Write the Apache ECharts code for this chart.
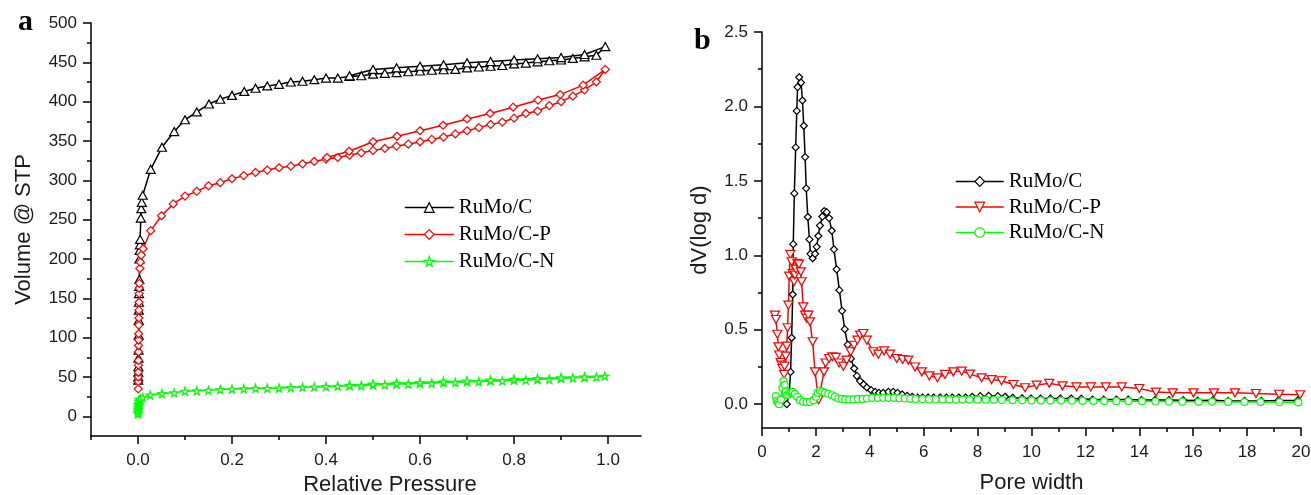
<!DOCTYPE html>
<html>
<head>
<meta charset="utf-8">
<title>RuMo/C isotherms and pore size distribution</title>
<script src="https://cdn.jsdelivr.net/npm/echarts@6/dist/echarts.min.js"></script>
<style>
  html, body { margin: 0; padding: 0; background: #fff; }
  #chart { width: 1311px; height: 495px; }
</style>
</head>
<body>
<div id="chart"></div>
<script>
// ---- panel a : N2 isotherms (relative pressure vs volume @ STP) ----
const aBlackP = [0.0005, 0.0006, 0.0007, 0.0008, 0.001, 0.0012, 0.0014, 0.0016, 0.0018, 0.002, 0.0022, 0.0025, 0.0028, 0.003, 0.0035, 0.004, 0.0045, 0.006, 0.007, 0.008, 0.01,
  0.027, 0.051, 0.077, 0.1, 0.125, 0.151, 0.175, 0.2, 0.226, 0.25, 0.275, 0.3, 0.325, 0.35, 0.375, 0.4, 0.425, 0.45, 0.475, 0.5, 0.525, 0.55, 0.575, 0.6, 0.625, 0.65, 0.675, 0.7, 0.725, 0.75, 0.775, 0.8, 0.825, 0.85, 0.875, 0.9, 0.925, 0.95, 0.975, 0.994,
  0.95, 0.9, 0.85, 0.8, 0.75, 0.7, 0.65, 0.6, 0.55, 0.5, 0.45]
const aBlackV = [46, 50, 56, 63, 74, 84, 103, 122, 135, 145, 156, 165, 174, 200, 211, 218, 225, 252, 264, 272, 281,
  314, 342, 362, 377, 387, 397, 403, 408, 413, 417, 420, 422, 425, 426, 428, 430, 430, 432, 433, 435, 436, 437, 438, 439, 440, 440.6, 441, 443, 444, 445, 446, 448, 449, 450.6, 452, 453, 455, 457, 459, 470,
  460, 456, 454.6, 453, 451, 449.5, 447, 445, 443, 441, 433]

const aRedP = [0.0005, 0.0006, 0.0007, 0.0008, 0.0009, 0.001, 0.0011, 0.0012, 0.0013, 0.0014, 0.0016, 0.0018, 0.002, 0.0022, 0.0025, 0.0027, 0.003, 0.004, 0.005, 0.007, 0.011,
  0.027, 0.05, 0.075, 0.1, 0.125, 0.15, 0.175, 0.2, 0.225, 0.25, 0.275, 0.3, 0.325, 0.35, 0.375, 0.4, 0.425, 0.45, 0.475, 0.5, 0.525, 0.55, 0.575, 0.6, 0.625, 0.65, 0.675, 0.7, 0.725, 0.75, 0.775, 0.8, 0.825, 0.85, 0.875, 0.9, 0.925, 0.95, 0.975, 0.994,
  0.947, 0.898, 0.851, 0.798, 0.749, 0.7, 0.649, 0.6, 0.551, 0.5, 0.449, 0.402]
const aRedV = [35, 44, 50, 56, 65, 71, 82, 90, 97, 105, 116, 125, 135, 145, 156, 163, 169, 188, 196, 205, 213,
  236, 255, 270, 280, 286, 293, 297, 302, 306, 310, 313, 316, 318, 321, 324, 327, 329, 332, 335, 338, 340.5, 343.5, 346, 349, 352, 355, 359, 363, 367, 371, 374, 379, 385, 388, 395, 400, 407, 415, 425, 441,
  421, 409, 402, 393, 385, 378, 370, 363, 356, 349, 337, 329]

const aGreenP = [0.0003, 0.0004, 0.0005, 0.0006, 0.0008, 0.001, 0.0013, 0.0017, 0.0022, 0.003, 0.005, 0.01,
  0.026, 0.051, 0.077, 0.1, 0.125, 0.15, 0.175, 0.2, 0.225, 0.25, 0.275, 0.3, 0.325, 0.35, 0.375, 0.4, 0.425, 0.45, 0.475, 0.5, 0.525, 0.55, 0.575, 0.6, 0.625, 0.65, 0.675, 0.7, 0.725, 0.75, 0.775, 0.8, 0.825, 0.85, 0.875, 0.9, 0.925, 0.95, 0.975, 0.993,
  0.95, 0.9, 0.85, 0.8, 0.75, 0.7, 0.65, 0.6, 0.55, 0.5, 0.45]
const aGreenV = [3, 5, 7, 9, 11, 13, 15, 17, 19, 21, 22, 24,
  27, 29, 30, 32, 32.5, 33, 34, 34.5, 35, 35.5, 35.5, 36, 36.5, 37, 37.4, 37.8, 38.3, 39, 39, 40, 40, 41, 41, 42, 42, 43, 43, 44, 44, 45, 45, 46, 46, 47, 47, 48.5, 49, 49.5, 50, 51,
  50, 49, 48, 47, 46, 45, 44, 43, 42, 41, 39.5]

const aXMajor = [0, 0.2, 0.4, 0.6, 0.8, 1.0]
const aXMinor = [-0.1, 0.1, 0.3, 0.5, 0.7, 0.9]
const aYMajor = [0, 50, 100, 150, 200, 250, 300, 350, 400, 450, 500]
const aYMinor = [25, 75, 125, 175, 225, 275, 325, 375, 425, 475]

// ---- panel b : pore size distribution (pore width vs dV(log d)) ----
const bBlackW = [0.92, 1.01, 1.06, 1.1, 1.14, 1.16, 1.2, 1.25, 1.29, 1.32, 1.38, 1.45, 1.5, 1.55, 1.6, 1.64, 1.7, 1.76, 1.8, 1.88, 1.97, 2.03, 2.09, 2.15, 2.24, 2.31, 2.4, 2.49, 2.59, 2.67, 2.77, 2.87, 2.97, 3.07, 3.18, 3.3, 3.42, 3.52, 3.64, 3.77, 3.89, 4.05, 4.2, 4.34, 4.5, 4.69, 4.87, 5.03, 5.2, 5.39, 5.57, 5.77, 5.95, 6.16, 6.37, 6.61, 6.84, 7.06, 7.3, 7.55, 7.8, 8.1, 8.41, 8.75, 9.02, 9.3, 9.65, 9.98, 10.33, 10.7, 11.07, 11.47, 11.85, 12.27, 12.68, 13.15, 13.59, 14.08, 14.58, 15.1, 15.63, 16.17, 16.73, 17.3, 17.91, 18.53, 19.17, 19.88]
const bBlackV = [0.0, 0.076, 0.217, 0.446, 0.737, 1.075, 1.416, 1.725, 1.97, 2.13, 2.196, 2.16, 2.04, 1.87, 1.66, 1.45, 1.257, 1.107, 1.01, 0.98, 1.01, 1.057, 1.13, 1.2, 1.26, 1.297, 1.29, 1.25, 1.165, 1.04, 0.906, 0.766, 0.627, 0.504, 0.4, 0.306, 0.24, 0.19, 0.155, 0.132, 0.112, 0.094, 0.083, 0.076, 0.076, 0.083, 0.083, 0.076, 0.065, 0.056, 0.05, 0.045, 0.045, 0.045, 0.045, 0.045, 0.045, 0.045, 0.045, 0.045, 0.05, 0.054, 0.056, 0.054, 0.05, 0.043, 0.04, 0.038, 0.038, 0.038, 0.038, 0.038, 0.037, 0.031, 0.031, 0.031, 0.031, 0.028, 0.028, 0.028, 0.027, 0.024, 0.027, 0.022, 0.022, 0.022, 0.025, 0.025]

const bRedW = [0.48, 0.52, 0.57, 0.61, 0.64, 0.69, 0.73, 0.76, 0.82, 0.84, 0.88, 0.92, 0.95, 0.98, 1.01, 1.05, 1.1, 1.14, 1.19, 1.22, 1.26, 1.31, 1.37, 1.44, 1.47, 1.53, 1.6, 1.66, 1.72, 1.78, 1.88, 1.97, 2.1, 2.3, 2.36, 2.49, 2.61, 2.74, 2.86, 3.02, 3.14, 3.29, 3.41, 3.54, 3.64, 3.76, 3.89, 4.13, 4.32, 4.53, 4.75, 5.0, 5.22, 5.43, 5.68, 5.93, 6.21, 6.51, 6.79, 7.1, 7.41, 7.72, 8.15, 8.52, 8.89, 9.33, 9.76, 10.19, 10.66, 11.15, 11.67, 12.2, 12.76, 13.35, 14.0, 14.62, 15.24, 16.01, 16.77, 17.55, 18.33, 19.19, 19.97]
const bRedV = [0.598, 0.569, 0.47, 0.385, 0.33, 0.28, 0.262, 0.24, 0.2, 0.255, 0.323, 0.39, 0.513, 0.665, 0.86, 1.006, 0.957, 0.878, 0.822, 0.867, 0.907, 0.946, 0.94, 0.889, 0.822, 0.654, 0.598, 0.576, 0.598, 0.553, 0.419, 0.217, 0.03, 0.217, 0.277, 0.307, 0.318, 0.314, 0.277, 0.255, 0.296, 0.352, 0.396, 0.43, 0.464, 0.475, 0.43, 0.352, 0.336, 0.358, 0.336, 0.307, 0.3, 0.296, 0.25, 0.217, 0.19, 0.177, 0.2, 0.217, 0.222, 0.202, 0.177, 0.165, 0.157, 0.132, 0.11, 0.128, 0.14, 0.123, 0.116, 0.116, 0.116, 0.116, 0.105, 0.081, 0.076, 0.076, 0.076, 0.076, 0.072, 0.067, 0.063]

const bGreenW = [0.51, 0.55, 0.6, 0.64, 0.7, 0.76, 0.8, 0.84, 0.88, 0.92, 0.98, 1.04, 1.1, 1.14, 1.22, 1.31, 1.41, 1.53, 1.66, 1.78, 1.91, 2.0, 2.07, 2.15, 2.24, 2.34, 2.46, 2.59, 2.71, 2.83, 2.96, 3.09, 3.24, 3.4, 3.56, 3.74, 3.9, 4.09, 4.3, 4.5, 4.7, 4.9, 5.1, 5.3, 5.5, 5.7, 5.95, 6.2, 6.45, 6.7, 6.95, 7.2, 7.45, 7.7, 8.0, 8.3, 8.6, 8.9, 9.3, 9.65, 10.0, 10.35, 10.7, 11.1, 11.5, 11.9, 12.3, 12.7, 13.15, 13.6, 14.1, 14.6, 15.1, 15.6, 16.2, 16.7, 17.3, 17.9, 18.5, 19.2, 19.9]
const bGreenV = [0.054, 0.022, 0.01, 0.0, 0.03, 0.11, 0.155, 0.13, 0.083, 0.06, 0.065, 0.076, 0.08, 0.083, 0.067, 0.05, 0.027, 0.016, 0.013, 0.016, 0.027, 0.05, 0.076, 0.09, 0.083, 0.076, 0.07, 0.06, 0.05, 0.038, 0.035, 0.032, 0.032, 0.032, 0.035, 0.035, 0.038, 0.043, 0.043, 0.043, 0.043, 0.043, 0.04, 0.038, 0.036, 0.035, 0.034, 0.033, 0.033, 0.032, 0.032, 0.031, 0.031, 0.031, 0.03, 0.03, 0.029, 0.028, 0.027, 0.026, 0.025, 0.025, 0.024, 0.024, 0.023, 0.022, 0.021, 0.021, 0.02, 0.02, 0.019, 0.018, 0.018, 0.017, 0.016, 0.016, 0.015, 0.014, 0.014, 0.013, 0.012]

const bXMajor = [0, 2, 4, 6, 8, 10, 12, 14, 16, 18, 20]
const bXMinor = [1, 3, 5, 7, 9, 11, 13, 15, 17, 19]
const bYMajor = [0, 0.5, 1.0, 1.5, 2.0, 2.5]
const bYMinor = [0.25, 0.75, 1.25, 1.75, 2.25]

const seriesNames = ["RuMo/C", "RuMo/C-P", "RuMo/C-N"]
const seriesColors = ["#000000", "#ff0000", "#00ff00"]

// ---- helpers ----
const SANS = "'Liberation Sans', Arial, sans-serif"
const SERIF = "'Liberation Serif', 'Times New Roman', serif"
const STAR = "path://M50 0L61 35L98 35L68 57L79 91L50 70L21 91L32 57L2 35L39 35Z"
const DOWN_TRI = "path://M0 0L10 0L5 9Z"

const pairs = (xs, ys) => xs.map((x, i) => [x, ys[i]])

function mainAxis(grid, min, max, pos, ticks, digits, name, gap, pad) {
	return {
		type: "value", gridIndex: grid, min: min, max: max, position: pos,
		axisLine: { show: true, onZero: false, lineStyle: { color: "#000", width: 1.5 } },
		axisTick: { show: true, length: 8, customValues: ticks, lineStyle: { color: "#000", width: 1.5 } },
		axisLabel: {
			customValues: ticks, margin: pos === "bottom" ? 16 : 14,
			fontFamily: SANS, fontSize: 17, color: "#1a1a1a",
			formatter: v => Number(v).toFixed(digits)
		},
		splitLine: { show: false },
		name: name, nameLocation: "middle", nameGap: gap,
		nameTextStyle: { fontFamily: SANS, fontSize: 22, color: "#1a1a1a", padding: pad || 0 }
	}
}
function minorAxis(grid, min, max, pos, ticks) {
	return {
		type: "value", gridIndex: grid, min: min, max: max, position: pos,
		axisLine: { show: false, onZero: false },
		axisTick: { show: true, length: 4, customValues: ticks, lineStyle: { color: "#000", width: 1.5 } },
		axisLabel: { show: false },
		splitLine: { show: false }
	}
}
function lineSeries(name, data, axis, color, symbol, size) {
	return {
		name: name, type: "line", data: data,
		xAxisIndex: axis, yAxisIndex: axis,
		symbol: symbol, symbolSize: size,
		lineStyle: { color: color, width: 1.5 },
		itemStyle: { color: "#fff", borderColor: color, borderWidth: 1.2 },
		emphasis: { disabled: true },
		animation: false, z: 3
	}
}
function legendBox(names, left, top, itemWidth, gap) {
	return {
		data: names.map((n, i) => ({
			name: n,
			itemStyle: { color: "#fff", borderColor: seriesColors[i], borderWidth: 1.2 },
			lineStyle: { color: seriesColors[i], width: 1.5 }
		})),
		left: left, top: top, orient: "vertical",
		itemWidth: itemWidth, itemHeight: 12, itemGap: gap,
		selectedMode: false,
		formatter: n => n.trim(),
		textStyle: { fontFamily: SERIF, fontSize: 21, color: "#000" }
	}
}

// panel b series get a trailing space so each legend finds its own markers
const bNames = seriesNames.map(n => n + " ")

const option = {
	animation: false,
	backgroundColor: "#fff",
	grid: [
		{ left: 91, top: 23, width: 550, height: 413, outerBoundsMode: "none" },
		{ left: 762, top: 32, width: 539, height: 396, outerBoundsMode: "none" }
	],
	xAxis: [
		mainAxis(0, -0.1, 1.07, "bottom", aXMajor, 1, "Relative Pressure", 35, [0, 0, 0, 48]),
		minorAxis(0, -0.1, 1.07, "bottom", aXMinor),
		mainAxis(1, 0, 20, "bottom", bXMajor, 0, "Pore width", 44),
		minorAxis(1, 0, 20, "bottom", bXMinor)
	],
	yAxis: [
		mainAxis(0, -25, 500, "left", aYMajor, 0, "Volume @ STP", 56),
		minorAxis(0, -25, 500, "left", aYMinor),
		mainAxis(1, -0.16, 2.5, "left", bYMajor, 1, "dV(log d)", 51),
		minorAxis(1, -0.16, 2.5, "left", bYMinor)
	],
	legend: [
		legendBox(seriesNames, 399, 192, 49, 6),
		legendBox(bNames, 950, 166, 48, 4.5)
	],
	graphic: [
		{ type: "text", left: 18, top: 7, style: { text: "a", font: "bold 30px " + SERIF, fill: "#000" } },
		{ type: "text", left: 694, top: 26, style: { text: "b", font: "bold 30px " + SERIF, fill: "#000" } }
	],
	series: [
		lineSeries(seriesNames[0], pairs(aBlackP, aBlackV), 0, seriesColors[0], "triangle", [9, 8]),
		lineSeries(seriesNames[1], pairs(aRedP, aRedV), 0, seriesColors[1], "diamond", 8),
		lineSeries(seriesNames[2], pairs(aGreenP, aGreenV), 0, seriesColors[2], STAR, 8),
		lineSeries(bNames[0], pairs(bBlackW, bBlackV), 2, seriesColors[0], "diamond", 7),
		lineSeries(bNames[1], pairs(bRedW, bRedV), 2, seriesColors[1], DOWN_TRI, [9, 8]),
		lineSeries(bNames[2], pairs(bGreenW, bGreenV), 2, seriesColors[2], "circle", 7)
	]
}

const chart = echarts.init(document.getElementById("chart"))
chart.setOption(option)
</script>
</body>
</html>
